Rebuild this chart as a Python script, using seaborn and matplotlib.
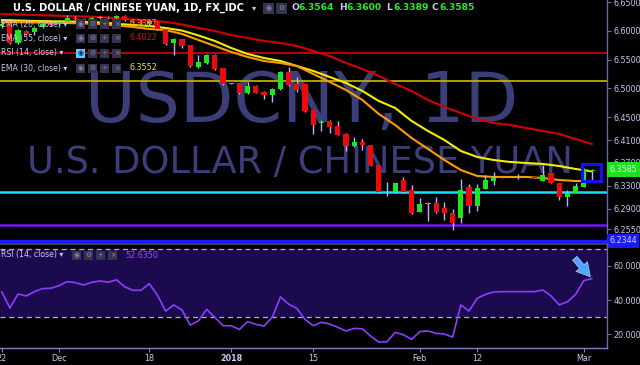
import numpy as np
import pandas as pd
import seaborn as sns
import matplotlib.pyplot as plt
from matplotlib.patches import Rectangle
import matplotlib.transforms as mtrans

# ---- data ----
dates = pd.bdate_range('2017-11-22', '2018-03-02')

opens = [6.6080, 6.6110, 6.5790, 6.5997, 6.5980, 6.6067, 6.6119, 6.6110, 6.6150, 6.6230,
         6.6210, 6.6170, 6.6220, 6.6240, 6.6225, 6.6260, 6.6190, 6.6150, 6.6110, 6.6160,
         6.6032, 6.5788, 6.5858, 6.5753, 6.5371, 6.5440, 6.5579, 6.5353, 6.5085, 6.5092,
         6.4918, 6.5040, 6.4936, 6.4883, 6.4988, 6.5284, 6.5075, 6.5075, 6.4622, 6.4400,
         6.4431, 6.4344, 6.4205, 6.3996, 6.4066, 6.4013, 6.3665, 6.3190, 6.3196, 6.3404,
         6.3230, 6.2848, 6.2995, 6.3004, 6.2917, 6.2830, 6.2743, 6.3283, 6.2952, 6.3248,
         6.3387, 6.3450, 6.3457, 6.3457, 6.3455, 6.3457, 6.3387, 6.3526, 6.3352, 6.3109,
         6.3178, 6.3283, 6.3564]
highs = [6.6150, 6.6130, 6.6040, 6.6010, 6.6060, 6.6135, 6.6150, 6.6180, 6.6280, 6.6250,
         6.6230, 6.6240, 6.6260, 6.6250, 6.6280, 6.6270, 6.6200, 6.6180, 6.6190, 6.6170,
         6.6040, 6.5870, 6.5866, 6.5760, 6.5579, 6.5600, 6.5600, 6.5360, 6.5095, 6.5100,
         6.5110, 6.5050, 6.4953, 6.5000, 6.5300, 6.5371, 6.5197, 6.5080, 6.4630, 6.4448,
         6.4440, 6.4431, 6.4215, 6.4153, 6.4118, 6.4020, 6.3670, 6.3370, 6.3360, 6.3457,
         6.3317, 6.3091, 6.3022, 6.3109, 6.3022, 6.2900, 6.3422, 6.3335, 6.3335, 6.3491,
         6.3544, 6.3465, 6.3460, 6.3509, 6.3462, 6.3460, 6.3665, 6.3530, 6.3360, 6.3230,
         6.3352, 6.3613, 6.3600]
lows = [6.6050, 6.5770, 6.5770, 6.5930, 6.5927, 6.6050, 6.6080, 6.6090, 6.6140, 6.6190,
        6.6150, 6.6150, 6.6200, 6.6200, 6.6210, 6.6170, 6.6130, 6.6120, 6.6100, 6.6020,
        6.5760, 6.5579, 6.5701, 6.5375, 6.5353, 6.5420, 6.5320, 6.5065, 6.5080, 6.4900,
        6.4900, 6.4910, 6.4814, 6.4762, 6.4975, 6.5040, 6.4936, 6.4590, 6.4205, 6.4257,
        6.4222, 6.4180, 6.3909, 6.3985, 6.3926, 6.3640, 6.3180, 6.3126, 6.3185, 6.3185,
        6.2820, 6.2840, 6.2691, 6.2830, 6.2708, 6.2534, 6.2656, 6.2830, 6.2865, 6.3240,
        6.3317, 6.3440, 6.3452, 6.3422, 6.3450, 6.3435, 6.3380, 6.3345, 6.3056, 6.2952,
        6.3170, 6.3275, 6.3389]
closes = [6.6110, 6.5790, 6.6014, 6.5945, 6.6049, 6.6119, 6.6110, 6.6150, 6.6230, 6.6210,
          6.6170, 6.6220, 6.6240, 6.6225, 6.6260, 6.6190, 6.6150, 6.6140, 6.6165, 6.6035,
          6.5771, 6.5858, 6.5736, 6.5388, 6.5458, 6.5579, 6.5336, 6.5075, 6.5092, 6.4918,
          6.5040, 6.4918, 6.4883, 6.4988, 6.5284, 6.5057, 6.4970, 6.4605, 6.4361, 6.4420,
          6.4327, 6.4187, 6.3996, 6.4066, 6.4013, 6.3648, 6.3196, 6.3196, 6.3352, 6.3196,
          6.2830, 6.2987, 6.3004, 6.2848, 6.2830, 6.2656, 6.3230, 6.2952, 6.3265, 6.3404,
          6.3439, 6.3457, 6.3457, 6.3455, 6.3457, 6.3439, 6.3491, 6.3352, 6.3109, 6.3178,
          6.3300, 6.3596, 6.3585]

rsi = [44.9, 35.3, 43.5, 42.4, 44.9, 46.7, 46.9, 48.4, 50.8, 50.2,
       48.8, 50.4, 51.2, 50.4, 51.9, 47.8, 45.7, 45.7, 49.6, 42.9,
       33.5, 37.1, 34.1, 25.3, 27.8, 34.5, 29.8, 24.9, 24.9, 22.7,
       27.3, 25.7, 24.7, 29.8, 41.8, 37.6, 35.1, 28.6, 24.9, 26.9,
       25.9, 23.9, 21.8, 23.3, 23.1, 18.8, 15.3, 15.5, 21.0, 19.6,
       16.9, 21.4, 21.8, 20.4, 20.0, 18.2, 37.1, 33.5, 41.0, 43.3,
       44.7, 44.9, 44.9, 44.9, 44.9, 44.9, 45.9, 42.4, 37.1, 39.0,
       43.3, 51.4, 52.635]

ema_bars = [0, 4, 8, 12, 16, 18, 20, 22, 24, 26, 28, 30, 32, 34, 36, 38, 40,
            42, 44, 46, 48, 50, 52, 54, 56, 58, 60, 62, 64, 66, 68, 70, 72]
ema20 = [6.6154, 6.6145, 6.6136, 6.6119, 6.6067, 6.6032, 6.6014, 6.5945, 6.5840, 6.5736,
         6.5632, 6.5545, 6.5475, 6.5440, 6.5388, 6.5249, 6.5110, 6.4970, 6.4796, 6.4553,
         6.4361, 6.4135, 6.3944, 6.3752, 6.3578, 6.3474, 6.3457, 6.3457, 6.3457, 6.3439,
         6.3404, 6.3387, 6.3387]
ema30 = [6.6188, 6.6171, 6.6162, 6.6145, 6.6101, 6.6084, 6.6049, 6.6004, 6.5919, 6.5823,
         6.5701, 6.5597, 6.5527, 6.5475, 6.5388, 6.5301, 6.5197, 6.5092, 6.4953, 6.4779,
         6.4657, 6.4431, 6.4257, 6.4100, 6.3909, 6.3805, 6.3752, 6.3718, 6.3700, 6.3683,
         6.3648, 6.3596, 6.3555]
ema55 = [6.6293, 6.6275, 6.6258, 6.6241, 6.6197, 6.6180, 6.6154, 6.6110, 6.6049, 6.5997,
         6.5927, 6.5875, 6.5823, 6.5788, 6.5736, 6.5649, 6.5562, 6.5440, 6.5336, 6.5214,
         6.5075, 6.4953, 6.4796, 6.4675, 6.4570, 6.4466, 6.4396, 6.4361, 6.4309, 6.4257,
         6.4205, 6.4118, 6.4030]

date_ticks = [0, 7, 18, 28, 38, 51, 58, 71]
date_labels = ['22', 'Dec', '18', '2018', '15', 'Feb', '12', 'Mar']
price_ticks = [6.65, 6.60, 6.55, 6.50, 6.45, 6.41, 6.37, 6.33, 6.29, 6.255]
rsi_ticks = [60, 40, 20]

line_red = 6.5613
line_olive = 6.5126
line_cyan = 6.3187
line_purple = 6.2622
line_blue = 6.2344
last_price = 6.3585

# ---- style ----
sns.set_theme(style='dark', rc={'axes.facecolor': 'black', 'figure.facecolor': 'black'})
plt.rcParams['font.family'] = ['DejaVu Sans']

TXT = '#c8c8f0'
W, H = 640, 365
fig = plt.figure(figsize=(6.4, 3.65), dpi=100)


def fx(px):
    return px / W


def fy(py):
    return 1 - py / H


ax = fig.add_axes([0, fy(243), fx(607), 243 / H])
ax2 = fig.add_axes([0, fy(348), fx(607), (348 - 244) / H])

x = np.arange(len(closes))
for a in (ax, ax2):
    a.set_facecolor('black')
    a.set_xlim(-0.2, 73.83)
    a.grid(False)
    for s in a.spines.values():
        s.set_visible(False)
    a.spines['right'].set_visible(True)
    a.spines['right'].set_color('#6a6aa8')
    a.spines['right'].set_linewidth(1)

# ---- main price pane ----
ax.set_ylim(6.2308, 6.6536)

ax.text(0.497, 1 - 122 / 243, 'USDCNY, 1D', transform=ax.transAxes, ha='center',
        va='baseline', fontsize=50, color='#3c3e7a', zorder=0)
ax.text(0.494, 1 - 173 / 243, 'U.S. DOLLAR / CHINESE YUAN', transform=ax.transAxes,
        ha='center', va='baseline', fontsize=26.5, color='#3c3e7a', zorder=0)

ax.axhline(line_red, color='#c80000', lw=1.3, zorder=1)
ax.axhline(line_olive, color='#b8b000', lw=1.3, zorder=1)
ax.axhline(line_cyan, color='#10e0ff', lw=1.8, zorder=1)
ax.axhline(line_purple, color='#7a10ff', lw=1.8, zorder=1)
ax.axhline(line_blue, color='#1a1aff', lw=2.4, zorder=1)

sns.lineplot(x=ema_bars, y=ema55, ax=ax, color='#d40000', lw=1.5, zorder=2)
sns.lineplot(x=ema_bars, y=ema30, ax=ax, color='#f2ee00', lw=1.5, zorder=2)
sns.lineplot(x=ema_bars, y=ema20, ax=ax, color='#ff9a00', lw=1.5, zorder=2)

o = np.array(opens)
c = np.array(closes)
up = c >= o
body_h = np.maximum(np.abs(c - o), 0.0012)
body_lo = (o + c) / 2 - body_h / 2
ax.vlines(x, lows, highs, color='#b4b4ff', lw=1, zorder=3)
ax.bar(x, body_h, bottom=body_lo, width=0.62, color=np.where(up, '#1ee61e', '#ee0a0a'),
       linewidth=0, zorder=4)

# box drawn around the last candles
ax.add_patch(Rectangle((x[-1] - 1.2, lows[-1]), 2.3, highs[-1] - lows[-1] + 0.009,
                       fill=False, ec='#1010ff', lw=2.2, zorder=5))

ax.yaxis.tick_right()
ax.set_yticks(price_ticks)
ax.set_yticklabels([f'{v:.4f}' for v in price_ticks])
ax.tick_params(axis='y', colors='#6a6aa8', labelcolor=TXT, labelsize=5.8, length=3,
               width=0.8, pad=1.5)
ax.set_xticks([])
ax.set_xlabel('')
ax.set_ylabel('')

tr = mtrans.blended_transform_factory(ax.transAxes, ax.transData)
ax.text(1.004, last_price, f'{last_price:.4f}', transform=tr, ha='left', va='center',
        fontsize=5.8, color='#c8ffc8', clip_on=False, zorder=6,
        bbox=dict(boxstyle='square,pad=0.35', fc='#22dd22', ec='none'))
ax.text(1.004, line_blue, f'{line_blue:.4f}', transform=tr, ha='left', va='center',
        fontsize=5.8, color='#d0d0ff', clip_on=False, zorder=6,
        bbox=dict(boxstyle='square,pad=0.3', fc='#1a1aff', ec='none'))

# ---- RSI pane ----
ax2.set_ylim(11.8, 72.9)
ax2.axhspan(30, 70, color='#1c0a4f', zorder=0, lw=0)
ax2.axhline(70, color='#b4acde', lw=0.9, ls=(0, (4, 3)), zorder=1)
ax2.axhline(30, color='#b4acde', lw=0.9, ls=(0, (4, 3)), zorder=1)
sns.lineplot(x=x, y=rsi, ax=ax2, color='#8f3cff', lw=1.2, zorder=2)
ax2.annotate('', xy=(x[-1] - 0.2, rsi[-1] + 1.0), xytext=(x[-1] - 2.1, 64.5),
             arrowprops=dict(arrowstyle='simple,head_width=0.9,head_length=0.8,tail_width=0.35',
                             fc='#4da6ff', ec='#a8d4ff', lw=0.5, shrinkA=0, shrinkB=0))

ax2.yaxis.tick_right()
ax2.set_yticks(rsi_ticks)
ax2.set_yticklabels([f'{v:.4f}' for v in rsi_ticks])
ax2.tick_params(axis='y', colors='#6a6aa8', labelcolor=TXT, labelsize=5.8, length=3,
                width=0.8, pad=1.5)
ax2.spines['bottom'].set_visible(True)
ax2.spines['bottom'].set_color('#8080c0')
ax2.spines['bottom'].set_linewidth(1)
ax2.set_xticks(date_ticks)
ax2.set_xticklabels(date_labels)
ax2.tick_params(axis='x', colors='#8080c0', labelcolor=TXT, labelsize=5.8, length=3,
                width=0.8, pad=1.5, bottom=True)
for lab in ax2.get_xticklabels():
    if lab.get_text() == '2018':
        lab.set_fontweight('bold')
ax2.set_xlabel('')
ax2.set_ylabel('')

# separator between panes
fig.add_artist(plt.Line2D([0, fx(607)], [fy(243.5), fy(243.5)], color='#4a4a5a', lw=1.2))

# ---- header and legends ----
fig.text(fx(13), fy(8), 'U.S. DOLLAR / CHINESE YUAN, 1D, FX_IDC', color='white',
         fontsize=7.1, weight='bold', va='center')
fig.text(fx(252), fy(8), '\u25be', color=TXT, fontsize=6, va='center')


def icon_boxes(x0, yc, size, gap, glyphs, first_fc=None):
    for k, g in enumerate(glyphs):
        xx = x0 + k * (size + gap)
        fc = first_fc if (k == 0 and first_fc) else '#34344f'
        gc = '#1a1a80' if (k == 0 and first_fc) else '#8484aa'
        fig.add_artist(Rectangle((fx(xx), fy(yc + size / 2)), size / W, size / H,
                                 transform=fig.transFigure, fc=fc, ec='none'))
        fig.text(fx(xx + size / 2), fy(yc), g, color=gc, fontsize=5, ha='center',
                 va='center')


icon_boxes(263, 8, 11, 2, ['\u25c9', '\u2699'])

ohlc = [('O', '6.3564', 291), ('H', '6.3600', 339), ('L', '6.3389', 386), ('C', '6.3585', 432)]
for letter, val, px0 in ohlc:
    fig.text(fx(px0), fy(8), letter, color=TXT, fontsize=6.6, weight='bold', va='center')
    fig.text(fx(px0 + 7), fy(8), val, color='#22ee22', fontsize=6.6, weight='bold',
             va='center')

glyphs4 = ['\u25c9', '\u2699', '+', '\u00d7']
legend_rows = [('EMA (20, close)', '6.3387', '#ff8c00', 24, None),
               ('EMA (55, close)', '6.4022', '#d01010', 38, None),
               ('RSI (14, close)', '', TXT, 53, '#5ad0ff'),
               ('EMA (30, close)', '6.3552', '#eeee22', 68, None)]
for name, val, col, yy, first in legend_rows:
    fig.text(fx(1), fy(yy), name + ' \u25be', color=TXT, fontsize=5.6, va='center')
    icon_boxes(76, yy, 9, 3, glyphs4, first)
    if val:
        fig.text(fx(130), fy(yy), val, color=col, fontsize=5.8, va='center')

fig.text(fx(1), fy(255), 'RSI (14, close) \u25be', color=TXT, fontsize=5.6, va='center')
icon_boxes(72, 255, 9, 3, glyphs4)
fig.text(fx(125), fy(255), '52.6350', color='#9d4dff', fontsize=5.8, va='center')

fig.savefig('out.png', dpi=100, facecolor='black')
